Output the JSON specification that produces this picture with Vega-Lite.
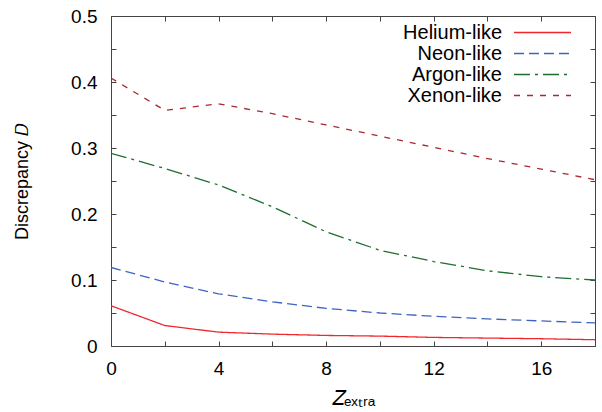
{
  "$schema": "https://vega.github.io/schema/vega-lite/v6.json",
  "width": 484,
  "height": 330,
  "autosize": {"type": "none"},
  "padding": {"left": 111, "top": 16, "right": 7, "bottom": 66},
  "background": "white",
  "config": {
    "font": "Liberation Sans",
    "view": {"stroke": "#444444", "strokeWidth": 1},
    "axis": {"grid": false, "domain": false, "tickColor": "#444444", "tickSize": -5, "labelColor": "black", "titleColor": "black", "labelFont": "Liberation Sans", "titleFont": "Liberation Sans"}
  },
  "data": {
    "values": [
      {"Z": 0, "D": 0.061, "series": "Helium-like"},
      {"Z": 2, "D": 0.031, "series": "Helium-like"},
      {"Z": 4, "D": 0.021, "series": "Helium-like"},
      {"Z": 6, "D": 0.018, "series": "Helium-like"},
      {"Z": 8, "D": 0.016, "series": "Helium-like"},
      {"Z": 10, "D": 0.015, "series": "Helium-like"},
      {"Z": 12, "D": 0.013, "series": "Helium-like"},
      {"Z": 14, "D": 0.012, "series": "Helium-like"},
      {"Z": 16, "D": 0.011, "series": "Helium-like"},
      {"Z": 18, "D": 0.0095, "series": "Helium-like"},
      {"Z": 0, "D": 0.119, "series": "Neon-like"},
      {"Z": 2, "D": 0.097, "series": "Neon-like"},
      {"Z": 4, "D": 0.079, "series": "Neon-like"},
      {"Z": 6, "D": 0.067, "series": "Neon-like"},
      {"Z": 8, "D": 0.057, "series": "Neon-like"},
      {"Z": 10, "D": 0.050, "series": "Neon-like"},
      {"Z": 12, "D": 0.045, "series": "Neon-like"},
      {"Z": 14, "D": 0.041, "series": "Neon-like"},
      {"Z": 16, "D": 0.038, "series": "Neon-like"},
      {"Z": 18, "D": 0.035, "series": "Neon-like"},
      {"Z": 0, "D": 0.292, "series": "Argon-like"},
      {"Z": 2, "D": 0.269, "series": "Argon-like"},
      {"Z": 4, "D": 0.244, "series": "Argon-like"},
      {"Z": 6, "D": 0.211, "series": "Argon-like"},
      {"Z": 8, "D": 0.173, "series": "Argon-like"},
      {"Z": 10, "D": 0.145, "series": "Argon-like"},
      {"Z": 12, "D": 0.128, "series": "Argon-like"},
      {"Z": 14, "D": 0.114, "series": "Argon-like"},
      {"Z": 16, "D": 0.105, "series": "Argon-like"},
      {"Z": 18, "D": 0.100, "series": "Argon-like"},
      {"Z": 0, "D": 0.406, "series": "Xenon-like"},
      {"Z": 2, "D": 0.357, "series": "Xenon-like"},
      {"Z": 4, "D": 0.367, "series": "Xenon-like"},
      {"Z": 6, "D": 0.352, "series": "Xenon-like"},
      {"Z": 8, "D": 0.335, "series": "Xenon-like"},
      {"Z": 10, "D": 0.318, "series": "Xenon-like"},
      {"Z": 12, "D": 0.301, "series": "Xenon-like"},
      {"Z": 14, "D": 0.284, "series": "Xenon-like"},
      {"Z": 16, "D": 0.268, "series": "Xenon-like"},
      {"Z": 18, "D": 0.252, "series": "Xenon-like"}
    ]
  },
  "layer": [
    {
      "mark": {"type": "line", "strokeWidth": 1.3, "clip": true},
      "encoding": {
        "x": {
          "field": "Z", "type": "quantitative",
          "scale": {"domain": [0, 18], "nice": false, "zero": false},
          "axis": {"orient": "bottom", "values": [0, 2, 4, 6, 8, 10, 12, 14, 16, 18],
            "labelExpr": "datum.value % 4 == 0 ? datum.label : ''",
            "labelFontSize": 19, "labelPadding": 18, "labelFlush": false,
            "title": "𝑍ₑₓₜᵣₐ", "titleFontSize": 20, "titleFontWeight": "normal", "titlePadding": 10}
        },
        "y": {
          "field": "D", "type": "quantitative",
          "scale": {"domain": [0, 0.5], "nice": false},
          "axis": {"orient": "left", "values": [0, 0.05, 0.1, 0.15, 0.2, 0.25, 0.3, 0.35, 0.4, 0.45, 0.5],
            "labelExpr": "round(datum.value * 100) % 10 == 0 ? format(datum.value, '.1~f') : ''",
            "labelFontSize": 19, "labelPadding": 19, "labelFlush": false,
            "title": "Discrepancy 𝐷", "titleFontSize": 18, "titleFontWeight": "normal", "titlePadding": 39}
        },
        "color": {
          "field": "series", "type": "nominal",
          "scale": {"domain": ["Helium-like", "Neon-like", "Argon-like", "Xenon-like"],
                    "range": ["#f0282d", "#3e63c0", "#1f6e2e", "#a82a2f"]},
          "legend": {"title": null, "orient": "none", "legendX": 421, "legendY": 6,
            "symbolType": "M-3,0H3", "symbolSize": 361, "symbolStrokeWidth": 1.5,
            "labelFontSize": 20, "labelAlign": "right", "labelOffset": -51,
            "rowPadding": 0, "padding": 0, "labelLimit": 300}
        },
        "strokeDash": {
          "field": "series", "type": "nominal",
          "scale": {"domain": ["Helium-like", "Neon-like", "Argon-like", "Xenon-like"],
                    "range": [[1, 0], [10, 5], [16, 5, 3, 5], [6, 7]]},
          "legend": null
        }
      }
    },
    {
      "mark": {"type": "line", "opacity": 0},
      "encoding": {
        "x": {
          "field": "Z", "type": "quantitative",
          "axis": {"orient": "top", "values": [0, 2, 4, 6, 8, 10, 12, 14, 16, 18], "labels": false, "title": null}
        },
        "y": {
          "field": "D", "type": "quantitative",
          "axis": {"orient": "right", "values": [0, 0.05, 0.1, 0.15, 0.2, 0.25, 0.3, 0.35, 0.4, 0.45, 0.5], "labels": false, "title": null}
        },
        "detail": {"field": "series", "type": "nominal"}
      }
    }
  ]
}
